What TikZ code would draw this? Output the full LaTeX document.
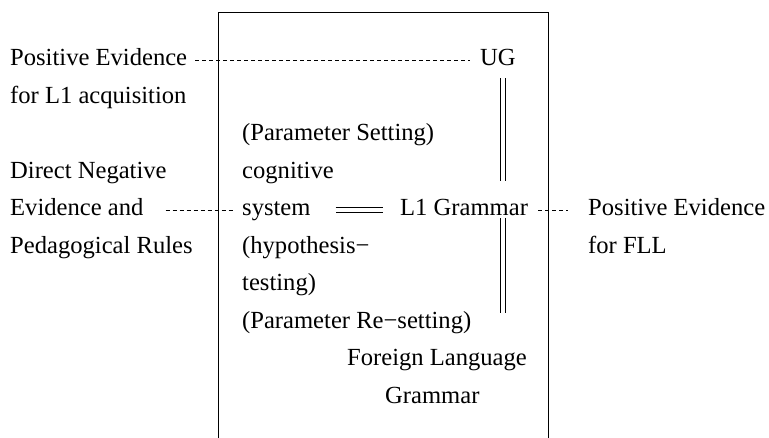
\documentclass[tikz,border=0pt]{standalone}
\usepackage{fontspec}
\setmainfont{Liberation Serif}

\begin{document}
\begin{tikzpicture}[x=1pt,y=-1pt,
  font=\fontsize{24.6}{30}\selectfont,
  txt/.style={anchor=base west,inner sep=0pt,text height=17pt,text depth=5.4pt},
  dots/.style={dash pattern=on 4pt off 3pt,line width=0.7pt},
  dbl/.style={double,double distance=4.6pt,line width=0.7pt}]
\useasboundingbox (0,0) rectangle (769,438);
\draw[line width=0.8pt] (218,438) -- (218,12) -- (548,12) -- (548,438);
\node[txt] (pe1) at (10,66) {Positive Evidence};
\node[txt] (l1acq) at (10,103.5) {for L1 acquisition};
\node[txt] (dne) at (10,178.5) {Direct Negative};
\node[txt] (evand) at (10,216) {Evidence and};
\node[txt] (pedr) at (10,253.5) {Pedagogical Rules};
\node[txt] (ug) at (480,66) {UG};
\node[txt] (pset) at (242,141) {(Parameter Setting)};
\node[txt] (cog) at (242,178.5) {cognitive};
\node[txt] (sys) at (242,216) {system};
\node[txt] (l1g) at (400,216) {L1 Grammar};
\node[txt] (hyp) at (242,253.5) {(hypothesis−};
\node[txt] (test) at (242,291) {testing)};
\node[txt] (preset) at (242,328.5) {(Parameter Re−setting)};
\node[txt] (flang) at (347,366) {Foreign Language};
\node[txt] (flgram) at (385,403.5) {Grammar};
\node[txt] (pe2) at (588,216) {Positive Evidence};
\node[txt] (fll) at (588,253.5) {for FLL};
\coordinate (fllend) at (503,313);
\draw[dots,shorten <=8pt,shorten >=10pt] (pe1.east) -- (ug.west);
\draw[dots,shorten <=22pt,shorten >=9pt] (evand.east) -- (sys.west);
\draw[dots,shorten <=10pt,shorten >=20pt] (l1g.east) -- (pe2.west);
\draw[dbl,shorten <=25pt,shorten >=17pt] (sys.east) -- (l1g.west);
\draw[dbl,shorten <=6.5pt,shorten >=18pt] (ug.south -| fllend) -- (l1g.north -| fllend);
\draw[dbl,shorten <=2pt] (l1g.base -| fllend) -- (fllend);
\end{tikzpicture}
\end{document}
